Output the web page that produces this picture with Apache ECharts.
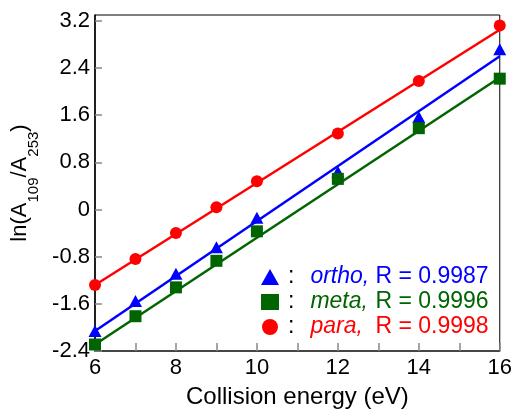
<!DOCTYPE html>
<html>
<head>
<meta charset="utf-8">
<script src="https://cdn.jsdelivr.net/npm/echarts@6/dist/echarts.min.js"></script>
<style>
  html, body { margin: 0; padding: 0; background: #fff; }
  #main { width: 515px; height: 414px; }
</style>
</head>
<body>
<div id="main"></div>
<script>
// collision energies (eV)
var energy = [6, 7, 8, 9, 10, 12, 14, 16];

// ln(A109/A253)
var ortho = [-2.06, -1.55, -1.09, -0.64, -0.14, 0.64, 1.57, 2.72];
var meta  = [-2.29, -1.81, -1.32, -0.87, -0.37, 0.52, 1.38, 2.22];
var para  = [-1.28, -0.84, -0.40, 0.04, 0.48, 1.29, 2.18, 3.12];

// fitted lines, end points as drawn
var fitX = [6, 16];
var orthoFit = [-2.06, 2.60];
var metaFit  = [-2.29, 2.24];
var paraFit  = [-1.28, 3.05];

var rValues = { ortho: '0.9987', meta: '0.9996', para: '0.9998' };
var colors = { ortho: '#0000ff', meta: '#006400', para: '#ff0000' };

function pairs(xs, ys) {
  return xs.map(function (x, i) { return [x, ys[i]]; });
}

var font = 'Liberation Sans, Arial, sans-serif';

var myChart = echarts.init(document.getElementById('main'));
var option = {
  backgroundColor: '#fff',
  animation: false,
  grid: {
    left: 95, right: 15, top: 15, bottom: 62,
    show: true, borderColor: '#000', borderWidth: 1
  },
  legend: {
    left: 256, top: 260,
    orient: 'vertical',
    selectedMode: false,
    itemWidth: 18, itemHeight: 16,
    itemGap: 1,
    itemStyle: { opacity: 1 },
    data: [
      { name: 'ortho', icon: 'triangle', textStyle: { color: colors.ortho } },
      { name: 'meta', icon: 'rect', textStyle: { color: colors.meta } },
      { name: 'para', icon: 'circle', textStyle: { color: colors.para } }
    ],
    formatter: function (name) {
      return '{k|:}{n|' + name + ',}R = ' + rValues[name];
    },
    textStyle: {
      fontFamily: font, fontSize: 23, lineHeight: 24,
      rich: {
        k: { color: '#000', fontSize: 23, fontFamily: font, padding: [0, 16, 0, 4] },
        n: { fontSize: 23, fontFamily: font, fontStyle: 'italic', width: 65 }
      }
    }
  },
  xAxis: {
    type: 'value',
    min: 6, max: 16, interval: 1,
    name: 'Collision energy (eV)',
    nameLocation: 'middle',
    nameGap: 34,
    nameTextStyle: { fontFamily: font, fontSize: 24, color: '#000' },
    axisLine: { onZero: false, lineStyle: { color: '#333', width: 1.5 } },
    axisTick: { inside: true, length: 8, lineStyle: { color: '#888', width: 1.5 } },
    axisLabel: {
      margin: 6, fontFamily: font, fontSize: 22, color: '#000',
      formatter: function (v) { return v % 2 === 0 ? String(v) : ''; }
    },
    splitLine: { show: false },
    minorSplitLine: { show: false }
  },
  yAxis: {
    type: 'value',
    min: -2.4, max: 3.3, interval: 0.8,
    name: '{a|ln(A}{s|109}{a|/A}{s|253}{a|)}',
    nameLocation: 'middle',
    nameRotate: 90,
    nameGap: 50,
    nameTextStyle: {
      rich: {
        a: { fontFamily: font, fontSize: 22, color: '#000', padding: [0, 0, 10, 0], verticalAlign: 'bottom' },
        s: { fontFamily: font, fontSize: 15, color: '#000', verticalAlign: 'bottom' }
      }
    },
    axisLine: { onZero: false, lineStyle: { color: '#000', width: 1.5 } },
    axisTick: { inside: true, length: 7, lineStyle: { color: '#888', width: 1.5 } },
    axisLabel: {
      margin: 5, fontFamily: font, fontSize: 22, color: '#000',
      showMaxLabel: false,
      formatter: function (v) { return String(+v.toFixed(1)); }
    },
    splitLine: { show: false }
  },
  series: [
    { name: 'orthoFit', type: 'line', data: pairs(fitX, orthoFit), showSymbol: false, silent: true,
      lineStyle: { color: colors.ortho, width: 2.5 }, z: 2 },
    { name: 'metaFit', type: 'line', data: pairs(fitX, metaFit), showSymbol: false, silent: true,
      lineStyle: { color: colors.meta, width: 2.5 }, z: 2 },
    { name: 'paraFit', type: 'line', data: pairs(fitX, paraFit), showSymbol: false, silent: true,
      lineStyle: { color: colors.para, width: 2.5 }, z: 2 },
    { name: 'ortho', type: 'scatter', data: pairs(energy, ortho), symbol: 'triangle', symbolSize: [13, 12],
      itemStyle: { color: colors.ortho, opacity: 1 }, z: 3 },
    { name: 'meta', type: 'scatter', data: pairs(energy, meta), symbol: 'rect', symbolSize: 12,
      itemStyle: { color: colors.meta, opacity: 1 }, z: 3 },
    { name: 'para', type: 'scatter', data: pairs(energy, para), symbol: 'circle', symbolSize: 12,
      itemStyle: { color: colors.para, opacity: 1 }, z: 3 }
  ]
};
myChart.setOption(option);
</script>
</body>
</html>
